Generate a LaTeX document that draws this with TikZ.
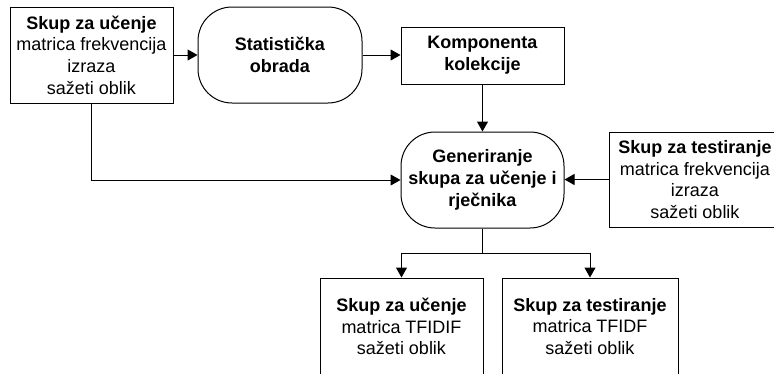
\documentclass[tikz,border=0pt]{standalone}
\usepackage{fontspec}
\setmainfont{Liberation Sans}
\usetikzlibrary{arrows.meta}
\begin{document}
\begin{tikzpicture}[x=1pt,y=-1pt,
  every node/.style={font=\fontsize{18pt}{21.7pt}\selectfont, align=center, inner sep=0pt, line width=1pt},
  databox/.style={draw, rectangle, minimum width=163pt, minimum height=96pt},
  procbox/.style={draw, rectangle, rounded corners=34pt, minimum width=164pt, minimum height=96pt},
  arr/.style={-{Triangle[length=10pt,width=11pt]}, line width=1pt},
  link/.style={line width=1pt}]
\useasboundingbox (0,0) rectangle (774,373);

% input data and processing chain
\node[databox] (train) at (91.5,55) {\textbf{Skup za učenje}\\matrica frekvencija\\izraza\\sažeti oblik};
\node[procbox] (stat) at (280,55) {\textbf{Statistička}\\\textbf{obrada}};
\node[databox, minimum height=57pt] (komp) at (482.5,55.5) {\textbf{Komponenta}\\\textbf{kolekcije}};
\node[procbox, minimum width=163pt] (gen) at (482.5,180) {\textbf{Generiranje}\\\textbf{skupa za učenje i}\\\textbf{rječnika}};
\node[databox, minimum width=172pt, minimum height=95pt] (test) at (695,179.5) {\textbf{Skup za testiranje}\\matrica frekvencija\\izraza\\sažeti oblik};

% outputs
\node[databox, minimum height=97pt] (outtrain) at (401.5,326.5) {\textbf{Skup za učenje}\\matrica TFIDIF\\sažeti oblik};
\node[databox, minimum width=176pt, minimum height=97pt] (outtest) at (590,326.5) {\textbf{Skup za testiranje}\\matrica TFIDF\\sažeti oblik};

% connectors
\draw[arr] (train.east) -- (stat.west);
\draw[arr] (stat.east) -- (komp.west |- stat.east);
\draw[arr] (komp.south) -- (gen.north);
\draw[arr] (train.south) -- (train.south |- gen.west) -- (gen.west);
\draw[arr] (test.west) -- (gen.east |- test.west);
\coordinate (fork) at (482.5,253);
\draw[link] (gen.south) -- (fork);
\draw[arr] (fork) -| (outtrain.north);
\draw[arr] (fork) -| (outtest.north);
\end{tikzpicture}
\end{document}
